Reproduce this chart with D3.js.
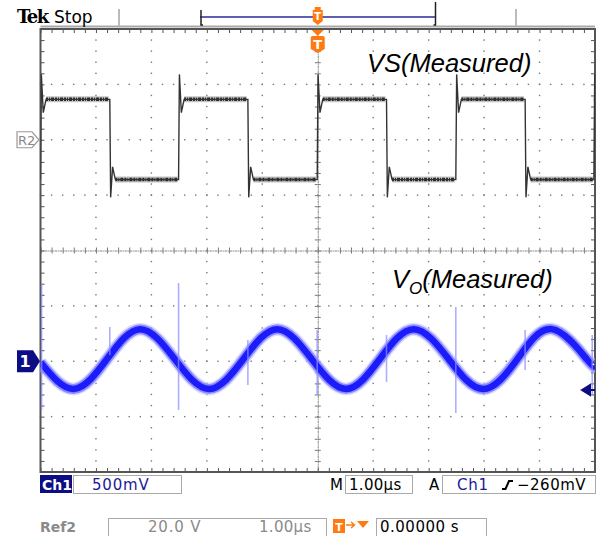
<!DOCTYPE html>
<html><head><meta charset="utf-8">
<script src="https://cdn.jsdelivr.net/npm/d3@7"></script>
<style>html,body{margin:0;padding:0;background:#fff;overflow:hidden}svg{display:block}</style>
</head><body>
<svg id="c" width="598" height="536"></svg>
<script>
const timeDomain = [0, 10];          // µs  (1.00 µs/div, 10 div)
const ch1ScaleMV = 500;              // mV/div
const ref2ScaleV = 20;               // V/div
const ch1OffsetDiv = -2;             // ground position of Ch1, divisions from centre
const ref2OffsetDiv = 2;             // ground position of Ref2
const triggerLevelMV = -260;
const triggerTime = 5;               // µs (centre)

// VS (Ref2) square wave: edge times and levels
const vsEdgeTimes = [0.0, 1.25, 2.49, 3.74, 4.99, 6.24, 7.49, 8.74, 9.98];
const vsEdgeTypes = ["rise", "fall", "rise", "fall", "rise", "fall", "rise", "fall", "rise"];
const vsHighV = 14.6, vsLowV = -14.4;
const vsRiseOvershootV = 23.6, vsRiseRingV = 9.8;
const vsFallOvershootV = -20.8, vsFallRingV = -9.8;

// Vo (Ch1) sine: read points (µs, mV)
const voTimes  = [0.00, 0.60, 1.20, 1.80, 2.42, 3.04, 3.66, 4.27, 4.89, 5.51, 6.12, 6.73, 7.36, 7.98, 8.60, 9.22, 9.85, 10.0];
const voValues = [-10, -250, 20, 290, 20, -250, 20, 290, 20, -250, 20, 290, 20, -250, 20, 290, 20, -40];
// switching spikes on Vo
const voSpikeTimes  = [0.02, 1.25, 2.49, 3.74, 4.99, 6.24, 7.49, 8.74, 9.95];
const voSpikeTop    = [707, 309, 707, 192, 282, 237, 490, 282, 237];
const voSpikeBottom = [-440, 56, -440, -214, -305, -187, -467, -79, -305];

// labels
const headerLabels = ["Tek", "Stop"];
const ch1Labels = ["Ch1", "500mV"];
const timebaseLabels = ["M", "1.00µs", "A", "Ch1", "−260mV"];
const refLabels = ["Ref2", "20.0 V", "1.00µs", "0.00000 s"];
const annotVS = "VS(Measured)";
const annotVO = ["V", "O", "(Measured)"];

// ---------------- layout ----------------
const L = 40.5, R = 595, T = 29, B = 472;
const svg = d3.select("#c");
const x = d3.scaleLinear().domain(timeDomain).range([L, R]);
const yDiv = d3.scaleLinear().domain([4, -4]).range([T, B]);
const yCh1 = mv => yDiv(mv / ch1ScaleMV + ch1OffsetDiv);
const yRef = v => yDiv(v / ref2ScaleV + ref2OffsetDiv);
const FONT = "'DejaVu Sans', Verdana, sans-serif";

svg.append("defs").append("clipPath").attr("id", "clip")
  .append("rect").attr("x", L).attr("y", T).attr("width", R - L).attr("height", B - T);

// header
svg.append("line").attr("x1", L).attr("x2", R).attr("y1", 26.5).attr("y2", 26.5)
  .attr("stroke", "#aaa").attr("stroke-width", 2);
[119, 516].forEach(px => svg.append("line").attr("x1", px).attr("x2", px).attr("y1", 9).attr("y2", 26)
  .attr("stroke", "#bbb").attr("stroke-width", 2));
svg.append("text").attr("x", 17).attr("y", 23).attr("font-family", "'DejaVu Serif', serif")
  .attr("font-weight", "bold").attr("font-size", 18).attr("letter-spacing", -1.5).text(headerLabels[0]);
svg.append("text").attr("x", 54).attr("y", 22.5).attr("font-family", FONT)
  .attr("font-size", 17).text(headerLabels[1]);
// record-length bar
svg.append("line").attr("x1", 200).attr("x2", 436).attr("y1", 17).attr("y2", 17)
  .attr("stroke", "#2b2b9a").attr("stroke-width", 1.5);
svg.append("path").attr("d", "M201,10V25h2 M435.5,2V25h-2").attr("stroke", "#222").attr("fill", "none").attr("stroke-width", 1.5);

// grid
const g = svg.append("g");
const minor = d3.range(0, 10.001, 0.2);
const minorY = d3.range(-4, 4.001, 0.2);
for (let k = 1; k < 10; k++) {
  if (k === 5) continue;
  g.selectAll(null).data(minorY).join("rect")
    .attr("x", x(k) - 0.7).attr("y", d => yDiv(d) - 0.7).attr("width", 1.4).attr("height", 1.4).attr("fill", "#777");
}
for (let k = -3; k <= 3; k++) {
  if (k === 0) continue;
  g.selectAll(null).data(minor).join("rect")
    .attr("x", d => x(d) - 0.7).attr("y", yDiv(k) - 0.7).attr("width", 1.4).attr("height", 1.4).attr("fill", "#777");
}
// centre lines with ticks (d3 axes)
const tickY = d3.axisLeft(yDiv).tickValues(minorY).tickSize(3).tickFormat("");
const tickY2 = d3.axisRight(yDiv).tickValues(minorY).tickSize(3).tickFormat("");
const tickX = d3.axisTop(x).tickValues(minor).tickSize(3).tickFormat("");
const tickX2 = d3.axisBottom(x).tickValues(minor).tickSize(3).tickFormat("");
function styleAxis(sel) { sel.selectAll("path").attr("stroke", "#888").attr("stroke-dasharray", "1,1.5"); sel.selectAll("line").attr("stroke", "#777"); }
g.append("g").attr("transform", `translate(${x(5)},0)`).call(tickY).call(styleAxis);
g.append("g").attr("transform", `translate(${x(5)},0)`).call(tickY2).call(styleAxis);
g.append("g").attr("transform", `translate(0,${yDiv(0)})`).call(tickX).call(styleAxis);
g.append("g").attr("transform", `translate(0,${yDiv(0)})`).call(tickX2).call(styleAxis);
// frame ticks
g.append("g").attr("transform", `translate(0,${T})`).call(d3.axisBottom(x).tickValues(minor).tickSize(4).tickFormat(""))
  .call(s => { s.select("path").remove(); s.selectAll("line").attr("stroke", "#555"); });
g.append("g").attr("transform", `translate(0,${B})`).call(d3.axisTop(x).tickValues(minor).tickSize(4).tickFormat(""))
  .call(s => { s.select("path").remove(); s.selectAll("line").attr("stroke", "#555"); });
g.append("g").attr("transform", `translate(${L},0)`).call(d3.axisRight(yDiv).tickValues(minorY).tickSize(4).tickFormat(""))
  .call(s => { s.select("path").remove(); s.selectAll("line").attr("stroke", "#555"); });
g.append("g").attr("transform", `translate(${R},0)`).call(d3.axisLeft(yDiv).tickValues(minorY).tickSize(4).tickFormat(""))
  .call(s => { s.select("path").remove(); s.selectAll("line").attr("stroke", "#555"); });
g.append("rect").attr("x", L).attr("y", T).attr("width", R - L).attr("height", B - T)
  .attr("fill", "none").attr("stroke", "#555").attr("stroke-width", 2);

// ---------------- VS trace ----------------
const vsPts = [];
const vsFlats = [];
vsEdgeTimes.forEach((t, i) => {
  const rise = vsEdgeTypes[i] === "rise";
  const from = rise ? vsLowV : vsHighV, to = rise ? vsHighV : vsLowV;
  vsPts.push([t, from], [t + 0.015, rise ? vsRiseOvershootV : vsFallOvershootV],
             [t + 0.05, rise ? vsRiseRingV : vsFallRingV], [t + 0.1, to]);
  const tEnd = i + 1 < vsEdgeTimes.length ? vsEdgeTimes[i + 1] : timeDomain[1];
  vsPts.push([tEnd, to]);
  vsFlats.push([[t + 0.1, to], [tEnd - 0.02, to]]);
});
const vsLine = d3.line().x(d => x(d[0])).y(d => yRef(d[1]));
const tr = svg.append("g").attr("clip-path", "url(#clip)");
tr.selectAll(null).data(vsFlats).join("path").attr("d", vsLine)
  .attr("stroke", "#8a8a8a").attr("stroke-width", 6).attr("fill", "none").attr("opacity", 0.5);
tr.selectAll(null).data(vsFlats).join("path").attr("d", vsLine)
  .attr("stroke", "#2a2a2a").attr("stroke-width", 3.5).attr("fill", "none").attr("stroke-dasharray", "2,1,1,1,3,1");
tr.append("path").datum(vsPts).attr("d", vsLine).attr("stroke", "#333").attr("stroke-width", 1.4).attr("fill", "none");

// ---------------- Vo trace ----------------
const voData = voTimes.map((t, i) => [t, voValues[i]]);
const voLine = d3.line().x(d => x(d[0])).y(d => yCh1(d[1])).curve(d3.curveNatural);
tr.append("path").datum(voData).attr("d", voLine).attr("stroke", "#c8c8ff").attr("stroke-width", 13).attr("fill", "none").attr("opacity", 0.6);
tr.append("path").datum(voData).attr("d", voLine).attr("stroke", "#7070ff").attr("stroke-width", 10).attr("fill", "none").attr("opacity", 0.75);
tr.append("path").datum(voData).attr("d", voLine).attr("stroke", "#1c1cfa").attr("stroke-width", 6.5).attr("fill", "none");
tr.selectAll(null).data(voSpikeTimes).join("line")
  .attr("x1", d => x(d)).attr("x2", d => x(d))
  .attr("y1", (d, i) => yCh1(voSpikeTop[i])).attr("y2", (d, i) => yCh1(voSpikeBottom[i]))
  .attr("stroke", "#8c8cff").attr("stroke-width", 1.6).attr("opacity", 0.7);

// ---------------- markers ----------------
const yR2 = yRef(0), y1 = yCh1(0);
svg.append("path").attr("d", `M17,${yR2 - 8}H32L39,${yR2}L32,${yR2 + 8}H17Z`)
  .attr("fill", "#fff").attr("stroke", "#999").attr("stroke-width", 1.2);
svg.append("text").attr("x", 18).attr("y", yR2 + 5).attr("font-family", FONT).attr("font-size", 13)
  .attr("fill", "#888").text("R2");
svg.append("path").attr("d", `M17,${y1 - 11}H33L40,${y1}L33,${y1 + 11}H17Z`).attr("fill", "#0c0c84");
svg.append("text").attr("x", 25).attr("y", y1 + 6).attr("text-anchor", "middle").attr("font-family", FONT)
  .attr("font-weight", "bold").attr("font-size", 16).attr("fill", "#fff").text("1");
const yTrig = yCh1(triggerLevelMV);
svg.append("path").attr("d", `M582,${yTrig}L590,${yTrig - 5}V${yTrig + 5}Z M589,${yTrig}H595`)
  .attr("fill", "#0c0c84").attr("stroke", "#0c0c84").attr("stroke-width", 2);
// trigger position markers (orange)
const xt = x(triggerTime);
const orange = "#ff7a10";
svg.append("path").attr("d", `M${xt - 3},7H${xt + 3}V10H${xt + 5}V21L${xt},25L${xt - 5},21V10H${xt - 3}Z`).attr("fill", orange);
svg.append("text").attr("x", xt).attr("y", 20).attr("text-anchor", "middle").attr("font-family", FONT)
  .attr("font-weight", "bold").attr("font-size", 10).attr("fill", "#fff").text("T");
svg.append("path").attr("d", `M${xt - 6},30H${xt + 6}L${xt},36Z`).attr("fill", orange);
svg.append("path").attr("d", `M${xt - 7},38Q${xt - 7},36 ${xt - 5},36H${xt + 5}Q${xt + 7},36 ${xt + 7},38V49L${xt},53L${xt - 7},49Z`).attr("fill", orange);
svg.append("text").attr("x", xt).attr("y", 49).attr("text-anchor", "middle").attr("font-family", FONT)
  .attr("font-weight", "bold").attr("font-size", 13).attr("fill", "#fff").text("T");

// ---------------- annotations ----------------
svg.append("text").attr("x", 367).attr("y", 72).attr("font-family", "'Liberation Sans', Arial, sans-serif")
  .attr("font-style", "italic").attr("font-size", 25.5).text(annotVS);
const vo = svg.append("text").attr("x", 392).attr("y", 288).attr("font-family", "'Liberation Sans', Arial, sans-serif")
  .attr("font-style", "italic").attr("font-size", 25.5);
vo.append("tspan").text(annotVO[0]);
vo.append("tspan").attr("font-size", 17).attr("dy", 6).text(annotVO[1]);
vo.append("tspan").attr("dy", -6).text(annotVO[2]);

// ---------------- bottom status ----------------
const navy = "#0c0c84";
svg.append("rect").attr("x", 40).attr("y", 475).attr("width", 32).attr("height", 18).attr("fill", navy);
svg.append("text").attr("x", 42).attr("y", 490).attr("font-family", FONT).attr("font-weight", "bold")
  .attr("font-size", 14).attr("fill", "#fff").text(ch1Labels[0]);
svg.append("rect").attr("x", 73.5).attr("y", 475.5).attr("width", 108).attr("height", 18).attr("fill", "none").attr("stroke", "#aaa");
svg.append("text").attr("x", 92).attr("y", 490).attr("font-family", FONT).attr("font-size", 15)
  .attr("letter-spacing", 0.8).attr("fill", "#1a1a9a").text(ch1Labels[1]);
svg.append("text").attr("x", 330).attr("y", 490).attr("font-family", FONT).attr("font-size", 15).text(timebaseLabels[0]);
svg.append("rect").attr("x", 345.5).attr("y", 475.5).attr("width", 67).attr("height", 18).attr("fill", "none").attr("stroke", "#aaa");
svg.append("text").attr("x", 349).attr("y", 490).attr("font-family", FONT).attr("font-size", 15).attr("letter-spacing", 0.3).text(timebaseLabels[1]);
svg.append("text").attr("x", 429).attr("y", 490).attr("font-family", FONT).attr("font-size", 15).text(timebaseLabels[2]);
svg.append("rect").attr("x", 442.5).attr("y", 475.5).attr("width", 153).attr("height", 18).attr("fill", "none").attr("stroke", "#aaa");
svg.append("text").attr("x", 457).attr("y", 490).attr("font-family", FONT).attr("font-size", 15).attr("letter-spacing", 0.8)
  .attr("fill", "#1a1a9a").text(timebaseLabels[3]);
svg.append("path").attr("d", "M502,489H505.5L509,481H513").attr("fill", "none").attr("stroke", "#000").attr("stroke-width", 2);
svg.append("text").attr("x", 517).attr("y", 490).attr("font-family", FONT).attr("font-size", 15).attr("letter-spacing", 0.5).text(timebaseLabels[4]);

svg.append("text").attr("x", 40).attr("y", 532).attr("font-family", FONT).attr("font-weight", "bold")
  .attr("font-size", 14).attr("fill", "#8a8a8a").text(refLabels[0]);
svg.append("rect").attr("x", 108.5).attr("y", 518.5).attr("width", 218).attr("height", 20).attr("fill", "none").attr("stroke", "#aaa");
svg.append("text").attr("x", 148).attr("y", 532).attr("font-family", FONT).attr("font-size", 15).attr("letter-spacing", 0.8)
  .attr("fill", "#8a8a8a").text(refLabels[1]);
svg.append("text").attr("x", 259).attr("y", 532).attr("font-family", FONT).attr("font-size", 15).attr("letter-spacing", 0.3)
  .attr("fill", "#8a8a8a").text(refLabels[2]);
svg.append("rect").attr("x", 333).attr("y", 519).attr("width", 12).attr("height", 14).attr("fill", orange);
svg.append("text").attr("x", 339).attr("y", 531).attr("text-anchor", "middle").attr("font-family", FONT)
  .attr("font-weight", "bold").attr("font-size", 11).attr("fill", "#fff").text("T");
svg.append("path").attr("d", "M346,525H354M351,522L354.5,525L351,528").attr("fill", "none").attr("stroke", orange).attr("stroke-width", 1.5);
svg.append("path").attr("d", "M357,521H369L363,528Z").attr("fill", orange);
svg.append("rect").attr("x", 376.5).attr("y", 518.5).attr("width", 110).attr("height", 20).attr("fill", "none").attr("stroke", "#aaa");
svg.append("text").attr("x", 380).attr("y", 532).attr("font-family", FONT).attr("font-size", 15).attr("letter-spacing", 0.5).text(refLabels[3]);
</script>
</body></html>
